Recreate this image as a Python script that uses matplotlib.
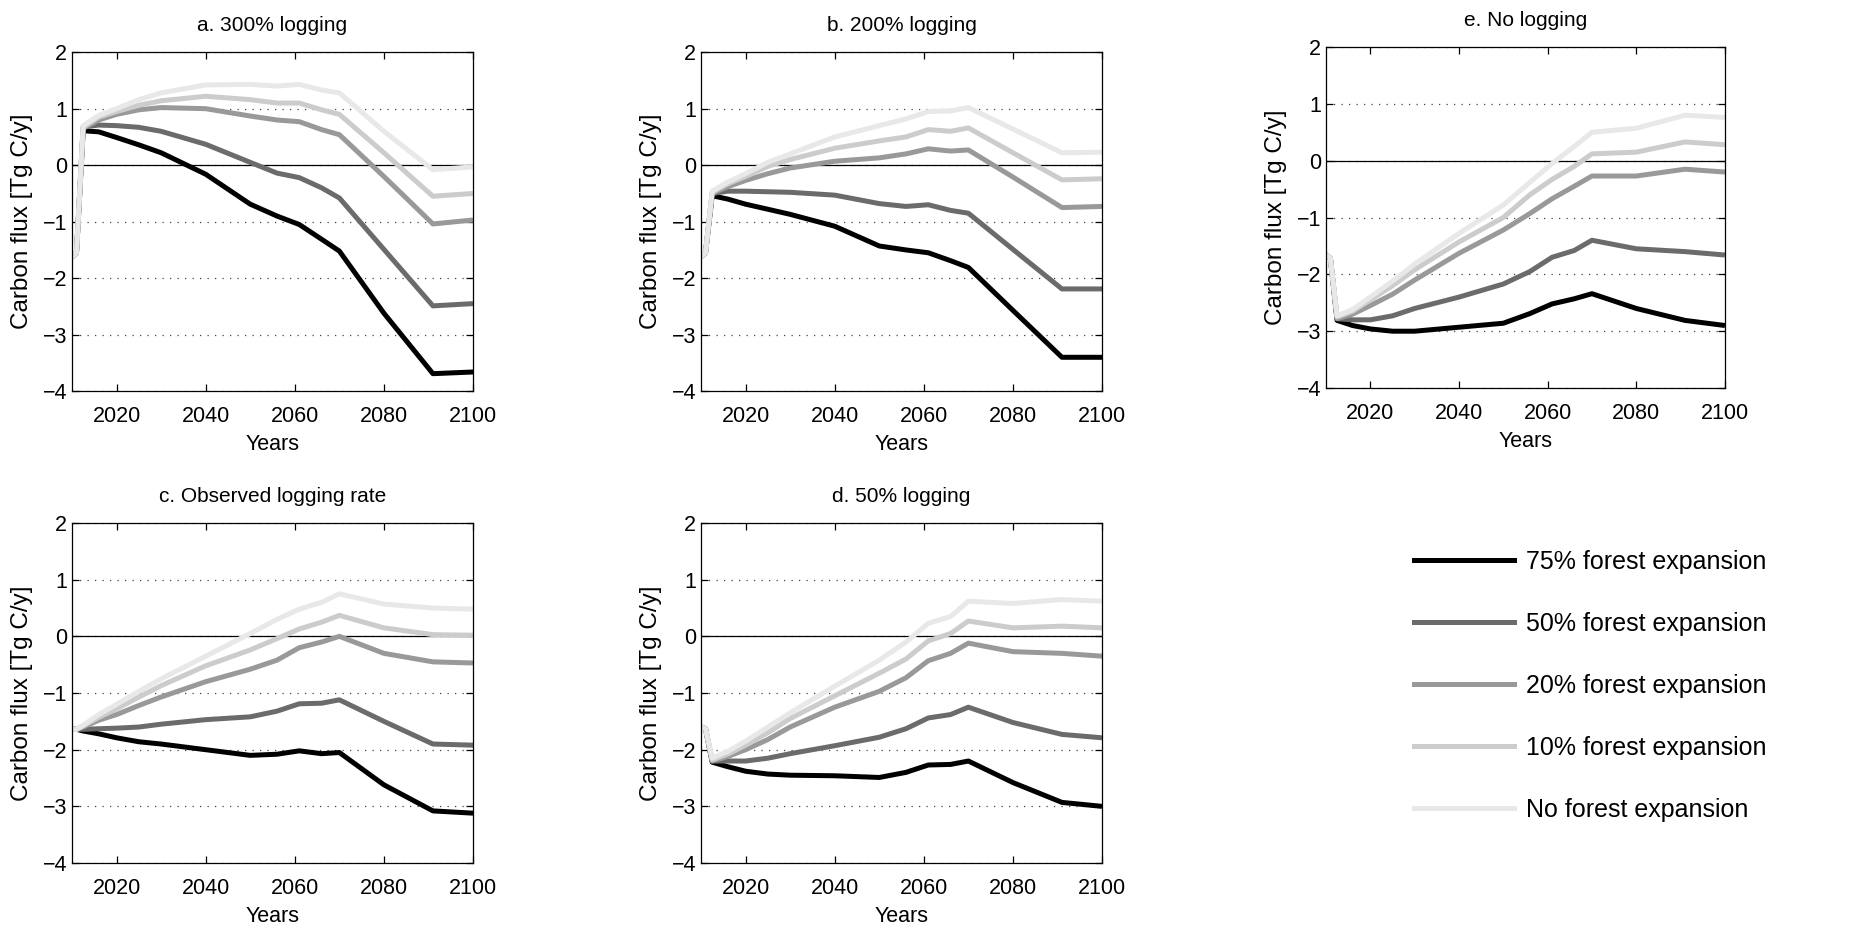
import matplotlib
matplotlib.use("Agg")
import matplotlib.pyplot as plt
from matplotlib.lines import Line2D

plt.rcParams["font.family"] = ["Liberation Sans", "DejaVu Sans"]

# ── data ─────────────────────────────────────────────────────────
YEARS = [2010, 2011, 2012.5, 2016, 2020, 2025, 2030, 2040, 2050, 2056, 2061, 2066, 2070, 2080, 2091, 2100]

SERIES_LABELS = ["75% forest expansion", "50% forest expansion", "20% forest expansion",
                 "10% forest expansion", "No forest expansion"]
SERIES_COLORS = ["#000000", "#6b6b6b", "#999999", "#cccccc", "#e8e8e8"]

# a. 300% logging
A_75 = [-1.62, -1.55, 0.61, 0.59, 0.49, 0.36, 0.22, -0.16, -0.69, -0.90, -1.05, -1.31, -1.52, -2.62, -3.69, -3.66]
A_50 = [-1.62, -1.55, 0.68, 0.71, 0.70, 0.67, 0.60, 0.37, 0.05, -0.14, -0.22, -0.40, -0.58, -1.49, -2.49, -2.45]
A_20 = [-1.62, -1.55, 0.65, 0.80, 0.90, 0.98, 1.02, 1.00, 0.87, 0.80, 0.77, 0.63, 0.54, -0.20, -1.04, -0.97]
A_10 = [-1.62, -1.55, 0.67, 0.85, 0.95, 1.06, 1.14, 1.22, 1.16, 1.10, 1.10, 0.98, 0.90, 0.22, -0.55, -0.50]
A_NO = [-1.62, -1.55, 0.70, 0.88, 1.00, 1.16, 1.28, 1.42, 1.43, 1.40, 1.43, 1.33, 1.28, 0.60, -0.08, -0.03]

# b. 200% logging
B_75 = [-1.62, -1.55, -0.54, -0.60, -0.69, -0.78, -0.87, -1.08, -1.43, -1.50, -1.55, -1.69, -1.81, -2.57, -3.40, -3.40]
B_50 = [-1.62, -1.55, -0.50, -0.46, -0.46, -0.47, -0.48, -0.53, -0.68, -0.73, -0.70, -0.80, -0.85, -1.49, -2.19, -2.19]
B_20 = [-1.62, -1.55, -0.50, -0.38, -0.27, -0.15, -0.05, 0.07, 0.13, 0.20, 0.29, 0.25, 0.27, -0.21, -0.75, -0.73]
B_10 = [-1.62, -1.55, -0.48, -0.33, -0.20, -0.02, 0.10, 0.30, 0.43, 0.50, 0.63, 0.60, 0.66, 0.22, -0.26, -0.24]
B_NO = [-1.62, -1.55, -0.46, -0.30, -0.15, 0.05, 0.20, 0.50, 0.70, 0.82, 0.95, 0.96, 1.02, 0.64, 0.22, 0.23]

# c. Observed logging rate
C_75 = [-1.64, -1.64, -1.67, -1.72, -1.79, -1.86, -1.90, -2.00, -2.10, -2.08, -2.02, -2.07, -2.05, -2.62, -3.08, -3.12]
C_50 = [-1.64, -1.64, -1.64, -1.63, -1.62, -1.60, -1.55, -1.47, -1.42, -1.32, -1.19, -1.18, -1.12, -1.50, -1.90, -1.92]
C_20 = [-1.64, -1.64, -1.60, -1.48, -1.38, -1.22, -1.07, -0.80, -0.58, -0.42, -0.20, -0.10, 0.00, -0.30, -0.45, -0.47]
C_10 = [-1.64, -1.64, -1.58, -1.43, -1.28, -1.07, -0.87, -0.52, -0.24, -0.04, 0.13, 0.25, 0.37, 0.15, 0.03, 0.02]
C_NO = [-1.64, -1.64, -1.57, -1.38, -1.20, -0.97, -0.75, -0.35, 0.05, 0.30, 0.48, 0.60, 0.75, 0.57, 0.50, 0.48]

# d. 50% logging
D_75 = [-1.60, -1.63, -2.22, -2.30, -2.38, -2.43, -2.45, -2.46, -2.49, -2.40, -2.27, -2.26, -2.20, -2.58, -2.93, -3.00]
D_50 = [-1.60, -1.63, -2.20, -2.20, -2.20, -2.15, -2.07, -1.93, -1.78, -1.63, -1.44, -1.38, -1.25, -1.52, -1.73, -1.79]
D_20 = [-1.60, -1.63, -2.20, -2.12, -2.00, -1.82, -1.60, -1.25, -0.97, -0.73, -0.43, -0.30, -0.12, -0.27, -0.30, -0.35]
D_10 = [-1.60, -1.63, -2.18, -2.08, -1.92, -1.70, -1.45, -1.05, -0.65, -0.40, -0.08, 0.05, 0.27, 0.15, 0.18, 0.15]
D_NO = [-1.60, -1.63, -2.15, -2.03, -1.85, -1.60, -1.35, -0.88, -0.42, -0.10, 0.23, 0.35, 0.62, 0.58, 0.65, 0.62]

# e. No logging
E_75 = [-1.65, -1.72, -2.81, -2.90, -2.96, -3.00, -3.00, -2.93, -2.86, -2.69, -2.52, -2.43, -2.34, -2.60, -2.81, -2.90]
E_50 = [-1.65, -1.72, -2.78, -2.80, -2.80, -2.73, -2.60, -2.40, -2.17, -1.95, -1.70, -1.58, -1.40, -1.55, -1.60, -1.66]
E_20 = [-1.65, -1.72, -2.78, -2.70, -2.55, -2.35, -2.10, -1.63, -1.22, -0.93, -0.67, -0.45, -0.27, -0.27, -0.15, -0.20]
E_10 = [-1.65, -1.72, -2.75, -2.65, -2.45, -2.20, -1.92, -1.43, -1.00, -0.60, -0.33, -0.10, 0.12, 0.15, 0.33, 0.28]
E_NO = [-1.65, -1.72, -2.73, -2.62, -2.40, -2.12, -1.82, -1.28, -0.78, -0.38, -0.05, 0.25, 0.50, 0.57, 0.80, 0.76]

X_TICKS = [2020, 2040, 2060, 2080, 2100]
Y_TICKS = [-4, -3, -2, -1, 0, 1, 2]

# panel title, series, axes rect [left, bottom, width, height] in figure fractions
PANELS = [
    ("a. 300% logging", [A_75, A_50, A_20, A_10, A_NO], [0.0386, 0.578, 0.2149, 0.3657]),
    ("b. 200% logging", [B_75, B_50, B_20, B_10, B_NO], [0.3757, 0.578, 0.2149, 0.3657]),
    ("e. No logging", [E_75, E_50, E_20, E_10, E_NO], [0.7106, 0.5814, 0.2138, 0.3679]),
    ("c. Observed logging rate", [C_75, C_50, C_20, C_10, C_NO], [0.0386, 0.069, 0.2149, 0.3668]),
    ("d. 50% logging", [D_75, D_50, D_20, D_10, D_NO], [0.3757, 0.069, 0.2149, 0.3668]),
]

fig = plt.figure(figsize=(18.66, 9.27), dpi=100)

for title, series, rect in PANELS:
    ax = fig.add_axes(rect)
    ax.yaxis.grid(True, linestyle=(0, (1, 5)), color="#444444", linewidth=0.9)
    ax.set_axisbelow(True)
    ax.axhline(0, color="black", linewidth=0.9, zorder=1)
    for vals, color in zip(series, SERIES_COLORS):
        ax.plot(YEARS, vals, color=color, linewidth=3.6, solid_capstyle="butt", zorder=2)
    ax.set_xlim(2010, 2100)
    ax.set_ylim(-4, 2)
    ax.set_xticks(X_TICKS)
    ax.set_yticks(Y_TICKS)
    ax.tick_params(direction="in", top=True, right=True, length=5, width=0.9, labelsize=15.5)
    ax.tick_params(axis="x", pad=10.5)
    ax.tick_params(axis="y", pad=3.5)
    for s in ax.spines.values():
        s.set_linewidth(0.9)
    ax.set_title(title, fontsize=15, pad=15)
    ax.set_xlabel("Years", fontsize=15.5, labelpad=5)
    ax.set_ylabel("Carbon flux [Tg C/y]", fontsize=17.5, labelpad=7)

handles = [Line2D([], [], color=c, linewidth=3.6) for c in SERIES_COLORS]
fig.legend(handles, SERIES_LABELS, loc="upper left", bbox_to_anchor=(0.758, 0.407),
           frameon=False, fontsize=18, handlelength=4.0, handletextpad=0.45,
           labelspacing=1.52, borderpad=0, borderaxespad=0)

fig.savefig("out.png", dpi=100)
